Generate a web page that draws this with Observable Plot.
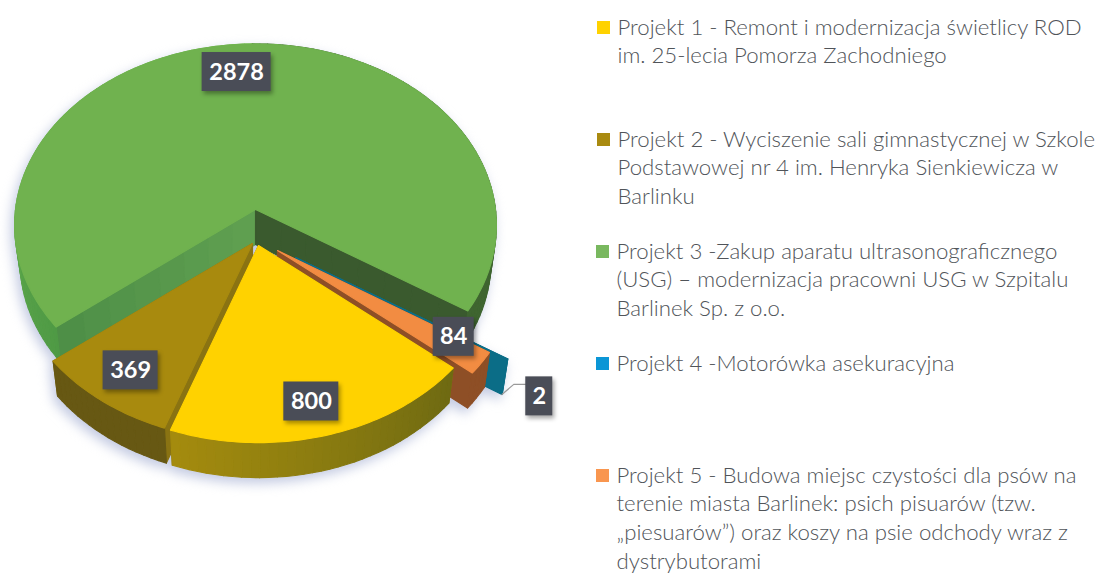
<!DOCTYPE html>
<html>
<head>
<meta charset="utf-8">
<script src="https://cdn.jsdelivr.net/npm/d3@7"></script>
<script src="https://cdn.jsdelivr.net/npm/@observablehq/plot@0.6"></script>
<style>html,body{margin:0;background:#fff}svg{display:block}</style>
</head>
<body>
<div id="chart"></div>
<script>
// ---- data (legend order = drawing order of the pie, clockwise) ----
const projects = ["Projekt 1", "Projekt 2", "Projekt 3", "Projekt 4", "Projekt 5"];
const values = [800, 369, 2878, 2, 84];
const colors = ["#ffd200", "#a88a0e", "#70b24f", "#0b6d87", "#f28c42"];
const swatches = ["#ffd200", "#a98a10", "#79b85f", "#0b96d6", "#f9964f"];
const legendLines = [
  ["Projekt 1 - Remont i modernizacja świetlicy ROD", "im. 25-lecia Pomorza Zachodniego"],
  ["Projekt 2 - Wyciszenie sali gimnastycznej w Szkole", "Podstawowej nr 4 im. Henryka Sienkiewicza w", "Barlinku"],
  ["Projekt 3 -Zakup aparatu ultrasonograficznego", "(USG) – modernizacja pracowni USG w Szpitalu", "Barlinek Sp. z o.o."],
  ["Projekt 4 -Motorówka asekuracyjna"],
  ["Projekt 5 - Budowa miejsc czystości dla psów na", "terenie miasta Barlinek: psich pisuarów (tzw.", "„piesuarów”) oraz koszy na psie odchody wraz z", "dystrybutorami"]
];

// ---- layout of the 3-D pie ----
const W = 1100, H = 573;
const startAngle = 130, R = 240, K = 180, P = 0.087, depth = 35, lean = 0.022, cx = 255;
const apex = [[258, 245], [252, 243], [255, 209], [295, 257], [277, 250]];
const faceColor = [["#8a7410", "#8a7410"], ["#8a7312", "#8a7312"], ["#5f9f50", "#4c8d46"], ["#0b6d87", "#0b6d87"], ["#8e4f26", "#8e4f26"]];
const labelAt = [[0.8, -1, 7], [0.8, -3, 3], [0.8, -10, -3], [1.15, -2, 21], [0.88, -2, -12]];
const fontFamily = "Lato, 'Open Sans', sans-serif";
const legendFont = 22.2, labelFont = 23.5;
const legendFirstBaseline = [34, 146, 258, 370, 482], legendStep = 28.8, legendX = [617, 617, 616, 616, 616];

const total = d3.sum(values);
const rad = d => d * Math.PI / 180;
function proj(i, theta, f = 1) {
  const u = f * Math.sin(rad(theta)), v = -f * Math.cos(rad(theta)), s = 1 / (1 - P * v);
  return [apex[i][0] + R * u * s, apex[i][1] + K * v * s];
}
const drop = ([x, y]) => [x - (x - cx) * lean, y + depth];

const faces = [];
let nid = 0;
function poly(pts, fill) {
  const id = nid++;
  [...pts, pts[0]].forEach(([x, y]) => faces.push({id, x, y, fill}));
}

function wallColor(i, theta) {
  const t = ((theta % 360) + 360) % 360;
  if (i === 2) return t < 180 ? "#3f6530" : d3.interpolateRgb("#4f9a45", "#5ea84c")((t - 232) / 40);
  if (i === 0) return d3.interpolateRgb("#6e6a12", "#a58c0e")((t - 130) / 70);
  if (i === 1) return "#675813";
  if (i === 4) return "#8e4f26";
  return "#0b6d87";
}

// slices with their spans, accumulated from the values
const slices = [];
{
  let a = startAngle;
  values.forEach((v, i) => { const b = a + v / total * 360; slices.push({i, a, b}); a = b; });
}
// painter's order: back slice first
for (const i of [2, 3, 4, 1, 0]) {
  const {a, b} = slices[i];
  const ap = apex[i];
  // radial cut faces, shaded from the centre outwards
  const strips = 8;
  for (let k = 0; k < strips; k++) {
    const f0 = k / strips, f1 = (k + 1) / strips;
    const c = d3.interpolateRgb(faceColor[i][0], faceColor[i][1])(f0);
    const p0 = proj(i, a, f0), p1 = proj(i, a, f1);
    poly([p0, p1, drop(p1), drop(p0)], c);
    const q0 = proj(i, b, f0), q1 = proj(i, b, f1);
    const c2 = i === 2 ? "#3a5a2e" : i === 3 ? "#0b6d87" : c;
    poly([q0, q1, drop(q1), drop(q0)], c2);
  }
  // outer wall
  const n = Math.max(1, Math.ceil((b - a) / 2));
  for (let k = 0; k < n; k++) {
    const t0 = a + (b - a) * k / n, t1 = a + (b - a) * (k + 1) / n;
    const p0 = proj(i, t0), p1 = proj(i, t1);
    poly([p0, p1, drop(p1), drop(p0)], wallColor(i, (t0 + t1) / 2));
  }
  // top
  const top = [ap];
  const m = Math.max(2, Math.ceil(b - a));
  for (let k = 0; k <= m; k++) top.push(proj(i, a + (b - a) * k / m));
  poly(top, colors[i]);
}

// value labels, placed along each slice's middle angle
const labels = slices.map(({i, a, b}) => {
  const [x, y] = proj(i, (a + b) / 2, labelAt[i][0]);
  const digits = String(values[i]).length;
  return {value: values[i], x: x + labelAt[i][1], y: y + labelAt[i][2], w: 13 + digits * 14, h: 39};
});
const blue = proj(3, slices[3].b);
const blueLabel = labels[3];
const leader = [
  drop(blue),
  [blueLabel.x - blueLabel.w / 2 - 12, blueLabel.y - 12],
  [blueLabel.x - blueLabel.w / 2, blueLabel.y - 12]
].map(([x, y]) => ({x, y}));

// legend
const legendRows = legendLines.flatMap((lines, i) =>
  lines.map((text, j) => ({text, x: legendX[i], y: legendFirstBaseline[i] + j * legendStep - 0.32 * legendFont})));
const legendSw = projects.map((p, i) => ({
  p, fill: swatches[i],
  x1: legendX[i] - 20, x2: legendX[i] - 7,
  y1: legendFirstBaseline[i] - 13, y2: legendFirstBaseline[i]
}));

const plot = Plot.plot({
  width: W, height: H,
  margin: 0,
  x: {domain: [0, W], range: [0, W], axis: null},
  y: {domain: [0, H], range: [0, H], axis: null},
  style: {background: "#fff", fontFamily},
  marks: [
    Plot.line(faces, {x: "x", y: "y", z: "id", fill: "#c4cbe2", stroke: "#c4cbe2", dx: -3, dy: 5, imageFilter: "blur(6px)"}),
    Plot.line(faces, {
      x: "x", y: "y", z: "id",
      fill: {value: "fill", scale: null},
      stroke: {value: "fill", scale: null},
      strokeWidth: 1.1
    }),
    Plot.line(leader, {x: "x", y: "y", stroke: "#9a9a9a", strokeWidth: 1.2}),
    Plot.rect(labels, {
      x1: d => d.x - d.w / 2, x2: d => d.x + d.w / 2,
      y1: d => d.y - d.h / 2, y2: d => d.y + d.h / 2,
      fill: "#4a4d57", imageFilter: "drop-shadow(2px 3px 2px rgba(0,0,0,.35))"
    }),
    Plot.text(labels, {
      x: "x", y: "y", text: d => String(d.value),
      fill: "#fff", fontWeight: "bold", fontSize: labelFont, fontFamily
    }),
    Plot.rect(legendSw, {x1: "x1", x2: "x2", y1: "y1", y2: "y2", fill: {value: "fill", scale: null}}),
    Plot.text(legendRows, {
      x: "x", y: "y", text: "text", textAnchor: "start", lineWidth: Infinity,
      fill: "#505459", fontSize: legendFont, fontWeight: 300, fontFamily
    })
  ]
});
document.getElementById("chart").append(plot);
</script>
</body>
</html>
